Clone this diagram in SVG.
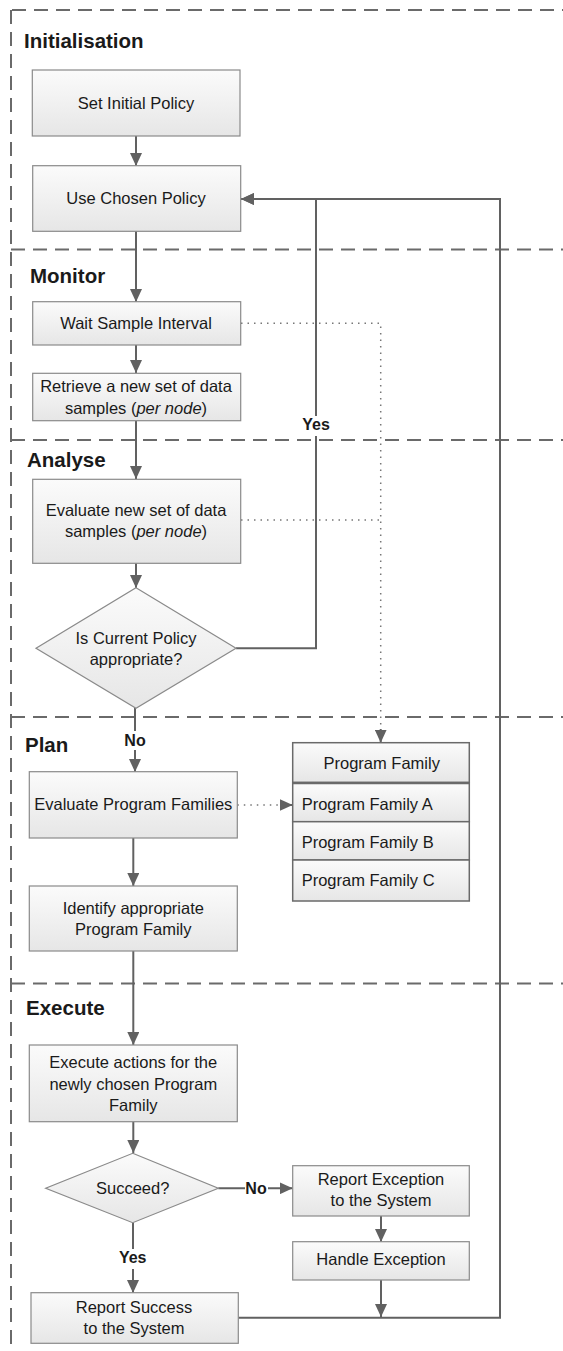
<svg xmlns="http://www.w3.org/2000/svg" width="563" height="1351" viewBox="0 0 563 1351">
<defs>
<linearGradient id="g" x1="0" y1="0" x2="0" y2="1">
<stop offset="0" stop-color="#fbfbfb"/>
<stop offset="1" stop-color="#e6e6e6"/>
</linearGradient>
<marker id="ah" markerUnits="userSpaceOnUse" markerWidth="14" markerHeight="12" refX="13" refY="6" orient="auto">
<path d="M0,0 L13,6 L0,12 z" fill="#616161"/>
</marker>
<style>
.sec{fill:none;stroke:#6a6a6a;stroke-width:2;stroke-dasharray:14 8}
.box{fill:url(#g);stroke:#8a8a8a;stroke-width:1.2}
.tbl{fill:url(#g);stroke:#6a6a6a;stroke-width:1.5}
.t{font-family:"Liberation Sans",Arial,sans-serif;font-size:16.5px;fill:#1a1a1a;text-anchor:middle}
.tl{font-family:"Liberation Sans",Arial,sans-serif;font-size:16.5px;fill:#1a1a1a}
.h{font-family:"Liberation Sans",Arial,sans-serif;font-size:20.5px;font-weight:bold;fill:#1a1a1a}
.lb{font-family:"Liberation Sans",Arial,sans-serif;font-size:16px;font-weight:bold;fill:#1a1a1a;text-anchor:middle}
.c{fill:none;stroke:#616161;stroke-width:2}
.d{fill:none;stroke:#777;stroke-width:1.5;stroke-dasharray:1.5 5}
</style>
</defs>
<rect width="563" height="1351" fill="#fff"/>
<g id="sections">
<path class="sec" d="M12,10 H563"/>
<path class="sec" d="M11,10 V1351"/>
<path class="sec" d="M11,249.5 H563"/>
<path class="sec" d="M11,440 H563"/>
<path class="sec" d="M11,717 H563"/>
<path class="sec" d="M11,983.5 H563"/>
<text class="h" x="24" y="48">Initialisation</text>
<text class="h" x="30" y="283">Monitor</text>
<text class="h" x="27" y="467">Analyse</text>
<text class="h" x="25" y="752">Plan</text>
<text class="h" x="26" y="1015">Execute</text>
</g>
<g id="connectors">
<path class="c" d="M136,136 V166" marker-end="url(#ah)"/>
<path class="c" d="M136,231 V302" marker-end="url(#ah)"/>
<path class="c" d="M136,345 V373" marker-end="url(#ah)"/>
<path class="c" d="M136,421 V479" marker-end="url(#ah)"/>
<path class="c" d="M136,563 V588" marker-end="url(#ah)"/>
<path class="c" d="M236,648.3 H316 V199 H241" marker-end="url(#ah)"/>
<path class="c" d="M238.3,1317.7 H500 V199 H241" marker-end="url(#ah)"/>
<path class="c" d="M135,708 V772" marker-end="url(#ah)"/>
<path class="c" d="M133.3,838 V886" marker-end="url(#ah)"/>
<path class="c" d="M133.3,951 V1045" marker-end="url(#ah)"/>
<path class="c" d="M133.3,1122 V1153" marker-end="url(#ah)"/>
<path class="c" d="M218.3,1188.3 H292.7" marker-end="url(#ah)"/>
<path class="c" d="M381,1216 V1242" marker-end="url(#ah)"/>
<path class="c" d="M381,1280 V1317" marker-end="url(#ah)"/>
<path class="c" d="M133,1223 V1293" marker-end="url(#ah)"/>
<path class="d" d="M241,323.3 H380.7 V729"/>
<path class="c" d="M380.7,729 V742.7" marker-end="url(#ah)" stroke-width="0"/>
<path class="d" d="M241,520 H380.7"/>
<path class="d" d="M237.3,805 H282"/>
<path class="c" d="M282,805 H292.7" marker-end="url(#ah)" stroke-width="0"/>
<rect x="300" y="416" width="32" height="20" fill="#fff"/>
<text class="lb" x="316" y="430">Yes</text>
<rect x="122" y="731" width="26" height="19" fill="#fff"/>
<text class="lb" x="135" y="745.7">No</text>
<rect x="245" y="1178" width="23" height="20" fill="#fff"/>
<text class="lb" x="256" y="1194">No</text>
<rect x="117" y="1249" width="32" height="20" fill="#fff"/>
<text class="lb" x="132.7" y="1263.3">Yes</text>
</g>
<g id="set-initial-policy">
<rect class="box" x="32.3" y="70" width="207.7" height="66"/>
<text class="t" x="136" y="108.5">Set Initial Policy</text>
</g>
<g id="use-chosen-policy">
<rect class="box" x="32.7" y="165.7" width="208" height="65.6"/>
<text class="t" x="136" y="203.5">Use Chosen Policy</text>
</g>
<g id="wait-sample-interval">
<rect class="box" x="32.7" y="301.7" width="208" height="43.3"/>
<text class="t" x="136" y="328.5">Wait Sample Interval</text>
</g>
<g id="retrieve-samples">
<rect class="box" x="32.7" y="373.3" width="208" height="47.4"/>
<text class="t" x="136" y="392">Retrieve a new set of data</text>
<text class="t" x="136" y="413.5">samples (<tspan font-style="italic">per node</tspan>)</text>
</g>
<g id="evaluate-samples">
<rect class="box" x="32.7" y="479.3" width="208" height="84"/>
<text class="t" x="136" y="516">Evaluate new set of data</text>
<text class="t" x="136" y="537">samples (<tspan font-style="italic">per node</tspan>)</text>
</g>
<g id="policy-decision">
<polygon class="box" points="136,587.7 236,648.3 136,708.3 36,648.3"/>
<text class="t" x="136" y="643.5">Is Current Policy</text>
<text class="t" x="136" y="664.5">appropriate?</text>
</g>
<g id="evaluate-program-families">
<rect class="box" x="29.3" y="771.7" width="208" height="66.3"/>
<text class="t" x="133.3" y="809.5">Evaluate Program Families</text>
</g>
<g id="program-family-table">
<rect class="tbl" x="292.7" y="742.7" width="176.6" height="39.6"/>
<rect class="tbl" x="292.7" y="783.5" width="176.6" height="38.2"/>
<rect class="tbl" x="292.7" y="821.7" width="176.6" height="38.3"/>
<rect class="tbl" x="292.7" y="860" width="176.6" height="41"/>
<text class="t" x="381.7" y="768.5">Program Family</text>
<text class="tl" x="301.7" y="810">Program Family A</text>
<text class="tl" x="301.7" y="847.5">Program Family B</text>
<text class="tl" x="301.7" y="886">Program Family C</text>
</g>
<g id="identify-program-family">
<rect class="box" x="29.3" y="886" width="208" height="65"/>
<text class="t" x="133.3" y="913.5">Identify appropriate</text>
<text class="t" x="133.3" y="935">Program Family</text>
</g>
<g id="execute-actions">
<rect class="box" x="29.3" y="1045" width="208" height="76.7"/>
<text class="t" x="133.3" y="1068">Execute actions for the</text>
<text class="t" x="133.3" y="1089.5">newly chosen Program</text>
<text class="t" x="133.3" y="1111">Family</text>
</g>
<g id="succeed-decision">
<polygon class="box" points="132.7,1153.3 218.3,1188.3 132.7,1222.7 45.7,1188.3"/>
<text class="t" x="132.7" y="1194">Succeed?</text>
</g>
<g id="report-exception">
<rect class="box" x="292.7" y="1165.7" width="176.6" height="50.3"/>
<text class="t" x="381" y="1185">Report Exception</text>
<text class="t" x="381" y="1206">to the System</text>
</g>
<g id="handle-exception">
<rect class="box" x="292.7" y="1241.7" width="176.6" height="38.3"/>
<text class="t" x="381" y="1265">Handle Exception</text>
</g>
<g id="report-success">
<rect class="box" x="31" y="1292.7" width="207.3" height="50.6"/>
<text class="t" x="134" y="1312.5">Report Success</text>
<text class="t" x="134" y="1334">to the System</text>
</g>
</svg>
